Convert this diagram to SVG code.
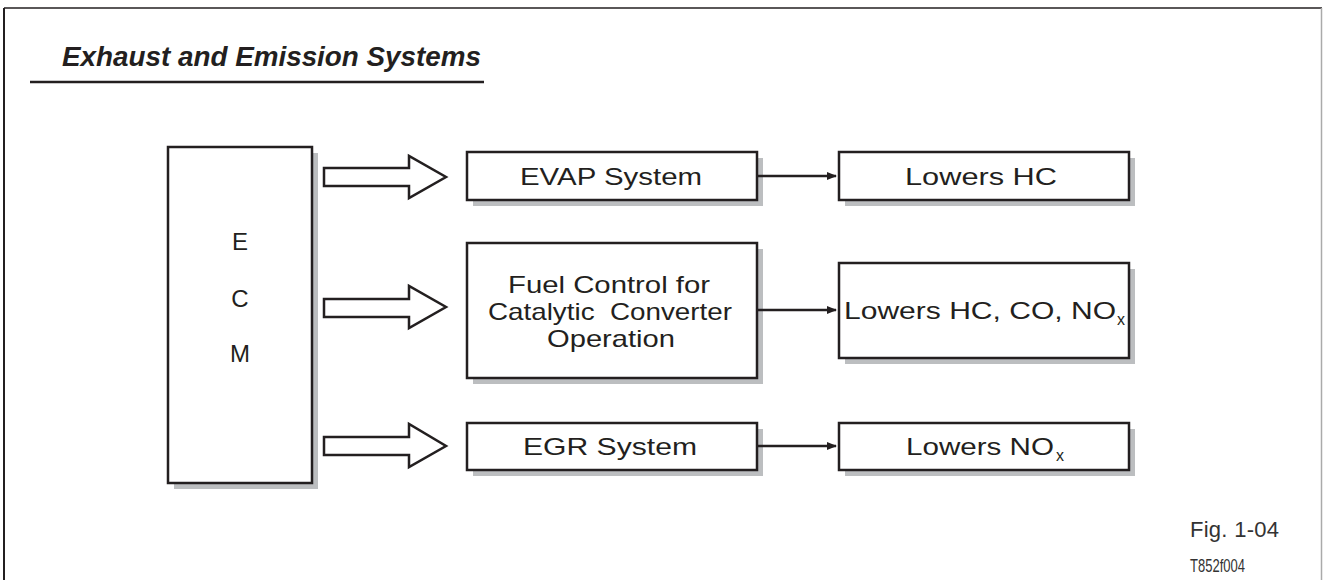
<svg xmlns="http://www.w3.org/2000/svg" width="1323" height="580" viewBox="0 0 1323 580">
<defs>
<style>
.box{fill:#fff;stroke:#231f20;stroke-width:2.5}
.shadow{fill:#bcbec0}
.blk{fill:#fff;stroke:#231f20;stroke-width:2.5;stroke-linejoin:miter}
.lbl{font-family:"Liberation Sans",Arial,sans-serif;font-size:24px;fill:#231f20}
.sub{font-family:"Liberation Sans",Arial,sans-serif;font-size:16px;fill:#231f20}
.con{stroke:#231f20;stroke-width:2.5;fill:none}
</style>
<marker id="ah" markerWidth="10" markerHeight="8" refX="9" refY="4" orient="auto" markerUnits="userSpaceOnUse">
<path d="M0,0 L10,4 L0,8 Z" fill="#231f20"/>
</marker>
</defs>
<rect width="1323" height="580" fill="#fff"/>
<g id="frame">
<line x1="4" y1="8" x2="1322" y2="8" stroke="#231f20" stroke-width="1.5"/>
<line x1="4" y1="8" x2="4" y2="580" stroke="#231f20" stroke-width="2"/>
<line x1="1321.5" y1="8" x2="1321.5" y2="580" stroke="#aaa" stroke-width="1.5"/>
</g>
<g id="title">
<text x="62" y="66" font-family="'Liberation Sans',Arial,sans-serif" font-size="27" font-weight="bold" font-style="italic" fill="#231f20" textLength="419" lengthAdjust="spacingAndGlyphs">Exhaust and Emission Systems</text>
<line x1="30" y1="82" x2="484" y2="82" stroke="#231f20" stroke-width="2.5"/>
</g>
<g id="ecm">
<rect class="shadow" x="174" y="153" width="144" height="336"/>
<rect class="box" x="168" y="147" width="144" height="336"/>
<text class="lbl" x="240" y="250" text-anchor="middle">E</text>
<text class="lbl" x="240" y="307" text-anchor="middle">C</text>
<text class="lbl" x="240" y="362" text-anchor="middle">M</text>
</g>
<g id="block-arrows">
<polygon class="blk" points="324,168 409,168 409,156 446,177 409,198 409,186 324,186"/>
<polygon class="blk" points="324,299 409,299 409,286 446,307 409,328 409,317 324,317"/>
<polygon class="blk" points="324,437 409,437 409,424 446,446 409,467 409,455 324,455"/>
</g>
<g id="evap">
<rect class="shadow" x="473" y="158" width="290" height="48"/>
<rect class="box" x="467" y="152" width="290" height="48"/>
<text class="lbl" x="520" y="185" textLength="182" lengthAdjust="spacingAndGlyphs">EVAP System</text>
</g>
<g id="lowers-hc">
<rect class="shadow" x="845" y="158" width="290" height="48"/>
<rect class="box" x="839" y="152" width="290" height="48"/>
<text class="lbl" x="905" y="185" textLength="152" lengthAdjust="spacingAndGlyphs">Lowers HC</text>
</g>
<g id="fuel">
<rect class="shadow" x="473" y="249" width="290" height="135"/>
<rect class="box" x="467" y="243" width="290" height="135"/>
<text class="lbl" x="508" y="293" textLength="202" lengthAdjust="spacingAndGlyphs">Fuel Control for</text>
<text class="lbl" x="488" y="320" textLength="244" lengthAdjust="spacingAndGlyphs" xml:space="preserve">Catalytic  Converter</text>
<text class="lbl" x="547" y="347" textLength="128" lengthAdjust="spacingAndGlyphs">Operation</text>
</g>
<g id="lowers-hc-co-nox">
<rect class="shadow" x="845" y="269" width="290" height="95"/>
<rect class="box" x="839" y="263" width="290" height="95"/>
<text class="lbl" x="844" y="319" textLength="272" lengthAdjust="spacingAndGlyphs">Lowers HC, CO, NO</text>
<text class="sub" x="1117" y="325">x</text>
</g>
<g id="egr">
<rect class="shadow" x="473" y="429" width="290" height="47"/>
<rect class="box" x="467" y="423" width="290" height="47"/>
<text class="lbl" x="523" y="455" textLength="174" lengthAdjust="spacingAndGlyphs">EGR System</text>
</g>
<g id="lowers-nox">
<rect class="shadow" x="845" y="429" width="290" height="47"/>
<rect class="box" x="839" y="423" width="290" height="47"/>
<text class="lbl" x="906" y="455" textLength="148" lengthAdjust="spacingAndGlyphs">Lowers NO</text>
<text class="sub" x="1056" y="461">x</text>
</g>
<g id="connectors">
<line class="con" x1="758" y1="176" x2="836" y2="176" marker-end="url(#ah)"/>
<line class="con" x1="758" y1="310" x2="836" y2="310" marker-end="url(#ah)"/>
<line class="con" x1="758" y1="446" x2="836" y2="446" marker-end="url(#ah)"/>
</g>
<g id="caption">
<text x="1190" y="537" font-family="'Liberation Sans',Arial,sans-serif" font-size="22" fill="#333" textLength="89">Fig. 1-04</text>
<text x="1190" y="572" font-family="'Liberation Sans',Arial,sans-serif" font-size="19" fill="#333" textLength="55" lengthAdjust="spacingAndGlyphs">T852f004</text>
</g>
</svg>
